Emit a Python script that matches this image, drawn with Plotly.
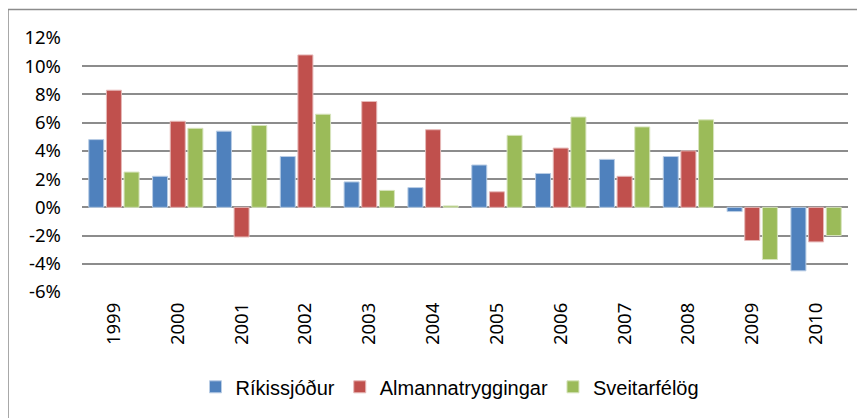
import plotly.graph_objects as go

years = ["1999", "2000", "2001", "2002", "2003", "2004", "2005", "2006", "2007", "2008", "2009", "2010"]
rikissjodur = [4.8, 2.2, 5.4, 3.6, 1.8, 1.4, 3.0, 2.4, 3.4, 3.6, -0.3, -4.5]
almannatryggingar = [8.3, 6.1, -2.1, 10.8, 7.5, 5.5, 1.1, 4.2, 2.2, 4.0, -2.35, -2.45]
sveitarfelog = [2.5, 5.6, 5.8, 6.6, 1.2, 0.1, 5.1, 6.4, 5.7, 6.2, -3.7, -2.0]
tick_vals = [-6, -4, -2, 0, 2, 4, 6, 8, 10, 12]
tick_text = [f"{v}%" for v in tick_vals]

series = [
    ("Ríkissjóður", rikissjodur, "#4F81BD", "#B9CDE5"),
    ("Almannatryggingar", almannatryggingar, "#C0504D", "#E6B9B8"),
    ("Sveitarfélög", sveitarfelog, "#9BBB59", "#D7E4BD"),
]

fig = go.Figure()
for name, vals, col, edge in series:
    fig.add_trace(go.Bar(x=years, y=vals, name=name, marker=dict(color=col, line=dict(color=edge, width=1))))

OFF = 8  # page body margin
W, H = 865 - OFF, 418 - OFF
l, r, t, b = 82 - OFF, 17, 37.5 - OFF, 126
pw, ph = W - l - r, H - t - b

def px_x(x):
    return (x - OFF - l) / pw

def px_y(y):
    return (H - b - (y - OFF)) / ph

fig.update_layout(
    width=W, height=H,
    margin=dict(l=l, r=r, t=t, b=b, pad=0),
    paper_bgcolor="white", plot_bgcolor="white",
    barmode="group", bargap=0.17, bargroupgap=0.15,
    font=dict(family="Noto Sans", size=17, color="#000000"),
    xaxis=dict(tickangle=-90, showgrid=False, showline=False, ticks="", tickfont=dict(size=18.5), ticklabelstandoff=6),
    yaxis=dict(range=[-6, 12], tickvals=tick_vals, ticktext=tick_text, showgrid=True, gridcolor="#8C8C8C", gridwidth=2,
               zeroline=True, zerolinecolor="#8C8C8C", zerolinewidth=2, showline=False, ticks="",
               tickfont=dict(size=18.5), ticklabelstandoff=20),
    legend=dict(orientation="h", x=px_x(450), xanchor="center", y=px_y(387), yanchor="middle",
                font=dict(family="Liberation Sans", size=20), itemwidth=30, tracegroupgap=0),
    shapes=[dict(type="rect", xref="paper", yref="paper", x0=px_x(8), x1=px_x(880), y0=px_y(9), y1=px_y(440),
                 line=dict(color="#8C8C8C", width=1.5), fillcolor="rgba(0,0,0,0)", layer="below")],
)

fig.write_html("out.html")
